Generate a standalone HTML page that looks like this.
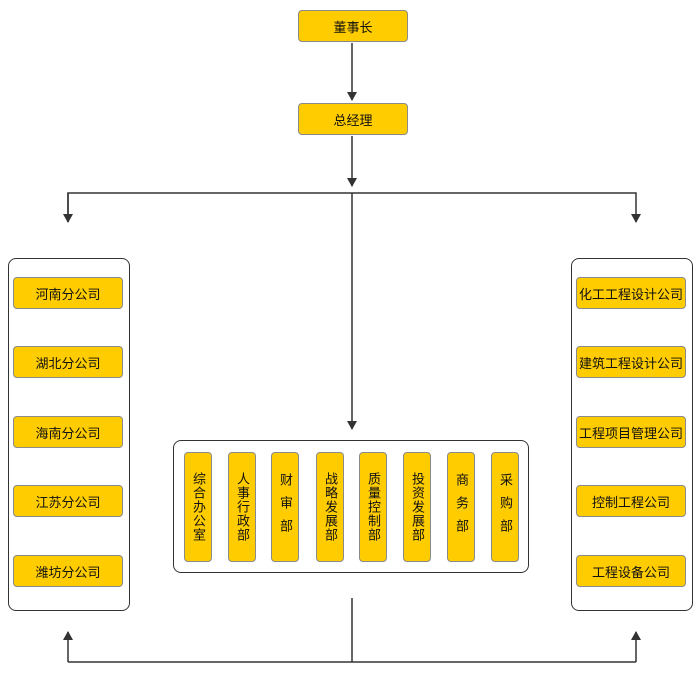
<!DOCTYPE html>
<html><head><meta charset="utf-8"><style>
body{margin:0;width:700px;height:686px;background:#fff;position:relative;font-family:"Liberation Sans","Noto Sans CJK SC",sans-serif;overflow:hidden}
.b{position:absolute;background:#FFCC00;border:1px solid #8a8a8a;border-radius:4px;box-sizing:border-box;color:#111;font-size:13px;display:flex;align-items:center;justify-content:center}
.p{position:absolute;border:1.5px solid #333;border-radius:8px;box-sizing:border-box}
.v{width:28px;height:110px;top:452px;writing-mode:vertical-rl;letter-spacing:3px;line-height:28px}
</style></head><body>
<svg width="700" height="686" style="position:absolute;left:0;top:0">
<defs><marker id="a" markerWidth="10" markerHeight="10" refX="8" refY="5" orient="auto" markerUnits="userSpaceOnUse"><path d="M0,0 L9,5 L0,10 Z" fill="#333"/></marker></defs>
<g stroke="#333" stroke-width="1.5" fill="none">
<line x1="352" y1="43" x2="352" y2="100" marker-end="url(#a)"/>
<line x1="352" y1="136" x2="352" y2="186" marker-end="url(#a)"/>
<polyline points="68,222 68,193 636,193 636,222" marker-end="url(#a)"/>
<line x1="68" y1="193" x2="68" y2="222" marker-end="url(#a)"/>
<line x1="352" y1="193" x2="352" y2="429" marker-end="url(#a)"/>
<line x1="352" y1="598" x2="352" y2="662"/>
<line x1="68" y1="662" x2="636" y2="662"/>
<line x1="68" y1="662" x2="68" y2="632" marker-end="url(#a)"/>
<line x1="636" y1="662" x2="636" y2="632" marker-end="url(#a)"/>
</g></svg>
<div class="b" style="left:298px;top:10px;width:110px;height:32px">董事长</div>
<div class="b" style="left:298px;top:103px;width:110px;height:32px">总经理</div>
<div class="p" style="left:8px;top:258px;width:122px;height:353px"></div>
<div class="p" style="left:571px;top:258px;width:122px;height:353px"></div>
<div class="p" style="left:173px;top:440px;width:356px;height:133px"></div>
<div class="b" style="left:13px;top:277px;width:110px;height:32px">河南分公司</div>
<div class="b" style="left:13px;top:346px;width:110px;height:32px">湖北分公司</div>
<div class="b" style="left:13px;top:416px;width:110px;height:32px">海南分公司</div>
<div class="b" style="left:13px;top:485px;width:110px;height:32px">江苏分公司</div>
<div class="b" style="left:13px;top:555px;width:110px;height:32px">潍坊分公司</div>
<div class="b" style="left:576px;top:277px;width:110px;height:32px">化工工程设计公司</div>
<div class="b" style="left:576px;top:346px;width:110px;height:32px">建筑工程设计公司</div>
<div class="b" style="left:576px;top:416px;width:110px;height:32px">工程项目管理公司</div>
<div class="b" style="left:576px;top:485px;width:110px;height:32px">控制工程公司</div>
<div class="b" style="left:576px;top:555px;width:110px;height:32px">工程设备公司</div>
<div class="b v" style="left:184px;letter-spacing:1px">综合办公室</div>
<div class="b v" style="left:228px;letter-spacing:1px">人事行政部</div>
<div class="b v" style="left:271px;letter-spacing:10px">财审部</div>
<div class="b v" style="left:316px;letter-spacing:1px">战略发展部</div>
<div class="b v" style="left:359px;letter-spacing:1px">质量控制部</div>
<div class="b v" style="left:403px;letter-spacing:1px">投资发展部</div>
<div class="b v" style="left:447px;letter-spacing:10px">商务部</div>
<div class="b v" style="left:491px;letter-spacing:10px">采购部</div>
</body></html>
